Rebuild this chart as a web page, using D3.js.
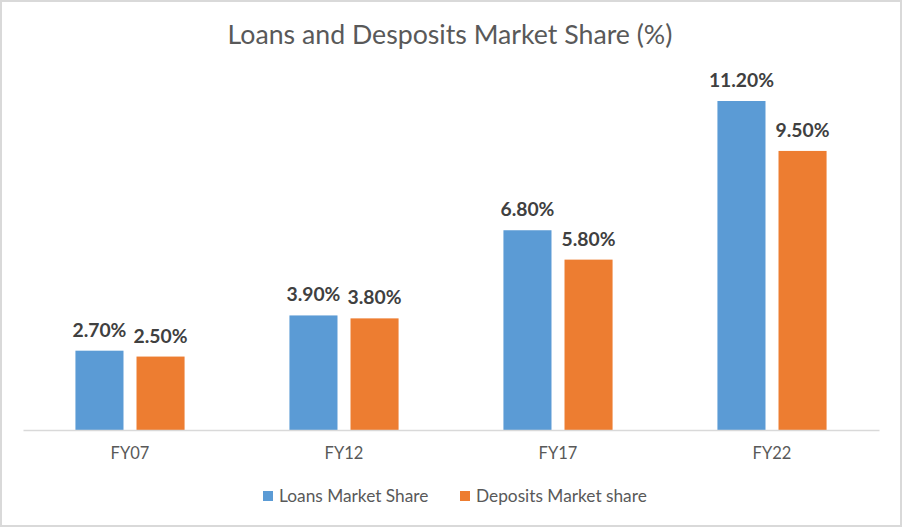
<!DOCTYPE html>
<html>
<head>
<meta charset="utf-8">
<script src="https://cdn.jsdelivr.net/npm/d3@7"></script>
<style>
  body { margin: 0; background: #fff; }
  text { font-family: Lato, "Open Sans", sans-serif; }
</style>
</head>
<body>
<svg id="chart" width="902" height="527"></svg>
<script>
// chart data
var categories = ["FY07", "FY12", "FY17", "FY22"];
var seriesNames = ["Loans Market Share", "Deposits Market share"];
var loans = [2.7, 3.9, 6.8, 11.2];
var deposits = [2.5, 3.8, 5.8, 9.5];
var colors = ["#5B9BD5", "#ED7D31"];

var rows = categories.map(function (c, i) {
    return { cat: c, values: [loans[i], deposits[i]] };
});

var svg = d3.select("#chart");

// outer frame
svg.append("rect")
    .attr("x", 1).attr("y", 1)
    .attr("width", 900).attr("height", 525)
    .attr("fill", "#fff")
    .attr("stroke", "#D9D9D9")
    .attr("stroke-width", 2);

// title
svg.append("text")
    .attr("x", 450).attr("y", 44)
    .attr("text-anchor", "middle")
    .attr("font-size", 26.7)
    .attr("fill", "#595959")
    .text("Loans and Desposits Market Share (%)");

// scales
var x0 = d3.scaleBand()
    .domain(categories)
    .range([23, 879])
    .paddingInner(0.49)
    .paddingOuter(0.245);

var x1 = d3.scaleBand()
    .domain([0, 1])
    .range([0, x0.bandwidth()])
    .paddingInner(13 / 61);

var y = d3.scaleLinear()
    .domain([0, 12])
    .range([430, 77.5]);

// bars
var groups = svg.selectAll(".grp")
    .data(rows)
    .enter().append("g")
    .attr("class", "grp")
    .attr("transform", function (d) { return "translate(" + x0(d.cat) + ",0)"; });

groups.selectAll("rect")
    .data(function (d) { return d.values; })
    .enter().append("rect")
    .attr("x", function (d, i) { return x1(i); })
    .attr("y", function (d) { return y(d); })
    .attr("width", x1.bandwidth())
    .attr("height", function (d) { return y(0) - y(d); })
    .attr("fill", function (d, i) { return colors[i]; });

// data labels
groups.selectAll(".lbl")
    .data(function (d) { return d.values; })
    .enter().append("text")
    .attr("class", "lbl")
    .attr("x", function (d, i) { return x1(i) + x1.bandwidth() / 2; })
    .attr("y", function (d) { return y(d) - 14; })
    .attr("text-anchor", "middle")
    .attr("font-size", 19.3)
    .attr("font-weight", "bold")
    .attr("fill", "#404040")
    .text(function (d) { return d.toFixed(2) + "%"; });

// x axis
var xAxis = d3.axisBottom(x0).tickSize(0).tickPadding(17);
var gx = svg.append("g")
    .attr("transform", "translate(0," + y(0) + ")")
    .call(xAxis);
gx.select(".domain").attr("stroke", "#D9D9D9").attr("stroke-width", 1.5);
gx.selectAll("text")
    .attr("font-size", 16.5)
    .attr("fill", "#595959")
    .style("font-family", "Lato, 'Open Sans', sans-serif");

// legend
var legendX = [263, 460];
var legend = svg.selectAll(".leg")
    .data(seriesNames)
    .enter().append("g")
    .attr("class", "leg")
    .attr("transform", function (d, i) { return "translate(" + legendX[i] + ",491)"; });

legend.append("rect")
    .attr("width", 10).attr("height", 10)
    .attr("fill", function (d, i) { return colors[i]; });

legend.append("text")
    .attr("x", 16).attr("y", 11)
    .attr("font-size", 17.3)
    .attr("fill", "#595959")
    .text(function (d) { return d; });
</script>
</body>
</html>
